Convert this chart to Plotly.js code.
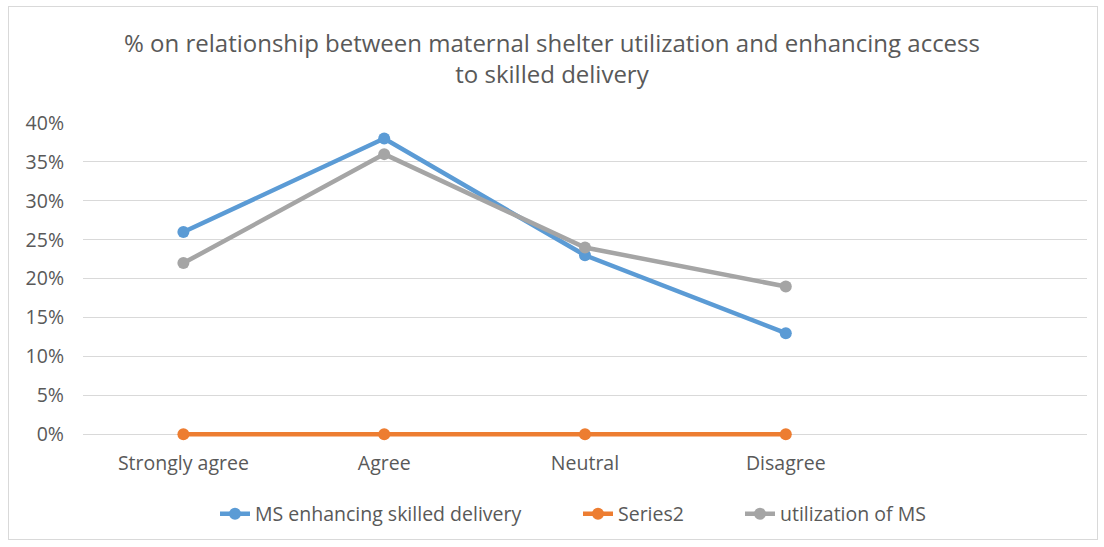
<!DOCTYPE html>
<html><head><meta charset="utf-8">
<script src="https://cdn.plot.ly/plotly-3.0.1.min.js"></script>
<style>
html,body{margin:0;padding:0;background:#fff;}
#frame{position:absolute;left:8px;top:6px;width:1090px;height:534px;border:1px solid #d9d9d9;box-sizing:border-box;}
#chart{position:absolute;left:0;top:0;width:1104px;height:547px;}
</style></head><body>
<div id="frame"></div>
<div id="chart"></div>
<script>
const categories = ['Strongly agree', 'Agree', 'Neutral', 'Disagree'];
const msEnhancing = [26, 38, 23, 13];
const series2 = [0, 0, 0, 0];
const utilization = [22, 36, 24, 19];
const yTicks = [0, 5, 10, 15, 20, 25, 30, 35, 40];

const font = "'Open Sans', Arial, sans-serif";
const idx = categories.map((c, i) => i);
function tr(name, y, color, leg) {
  return {x: idx, y: y, name: name, type: 'scatter', mode: 'lines+markers', cliponaxis: false,
    legend: leg, line: {color: color, width: 4.5}, marker: {color: color, size: 12}};
}
const data = [
  tr('MS enhancing skilled delivery', msEnhancing, '#5b9bd5', 'legend'),
  tr('Series2', series2, '#ed7d31', 'legend2'),
  tr('utilization of MS', utilization, '#a5a5a5', 'legend3')
];
function leg(textStart) {
  return {orientation: 'h', xref: 'container', x: (textStart - 42) / 1104, xanchor: 'left',
    yref: 'container', y: 1 - 514 / 547, yanchor: 'middle',
    font: {size: 19.5, color: '#595959'}, bgcolor: 'rgba(0,0,0,0)'};
}
const layout = {
  width: 1104, height: 547,
  paper_bgcolor: 'rgba(0,0,0,0)', plot_bgcolor: 'rgba(0,0,0,0)',
  margin: {l: 83, r: 17, t: 123, b: 108.3},
  font: {family: font, color: '#595959', size: 19.5},
  title: {text: '% on relationship between maternal shelter utilization and enhancing access<br>to skilled delivery',
    font: {size: 24, color: '#595959', family: font}, x: 0.5, xanchor: 'center',
    yref: 'container', y: 1 - 52 / 547, yanchor: 'top'},
  xaxis: {range: [-0.5, 4.5], tickvals: idx, ticktext: categories, showgrid: false, zeroline: false,
    showline: false, ticks: '', ticklabelstandoff: 10, tickfont: {size: 19.5, color: '#595959'}, fixedrange: true},
  yaxis: {range: [-0.6, 40], tickvals: yTicks, ticktext: yTicks.map(v => v + '%'), showgrid: true,
    gridcolor: '#d9d9d9', gridwidth: 1, zeroline: false, showline: false, ticks: '',
    ticklabelstandoff: 18, tickfont: {size: 19.5, color: '#595959'}},
  showlegend: true,
  legend: leg(257),
  legend2: leg(620),
  legend3: leg(782)
};
Plotly.newPlot('chart', data, layout, {displayModeBar: false, staticPlot: true});
</script>
</body></html>
